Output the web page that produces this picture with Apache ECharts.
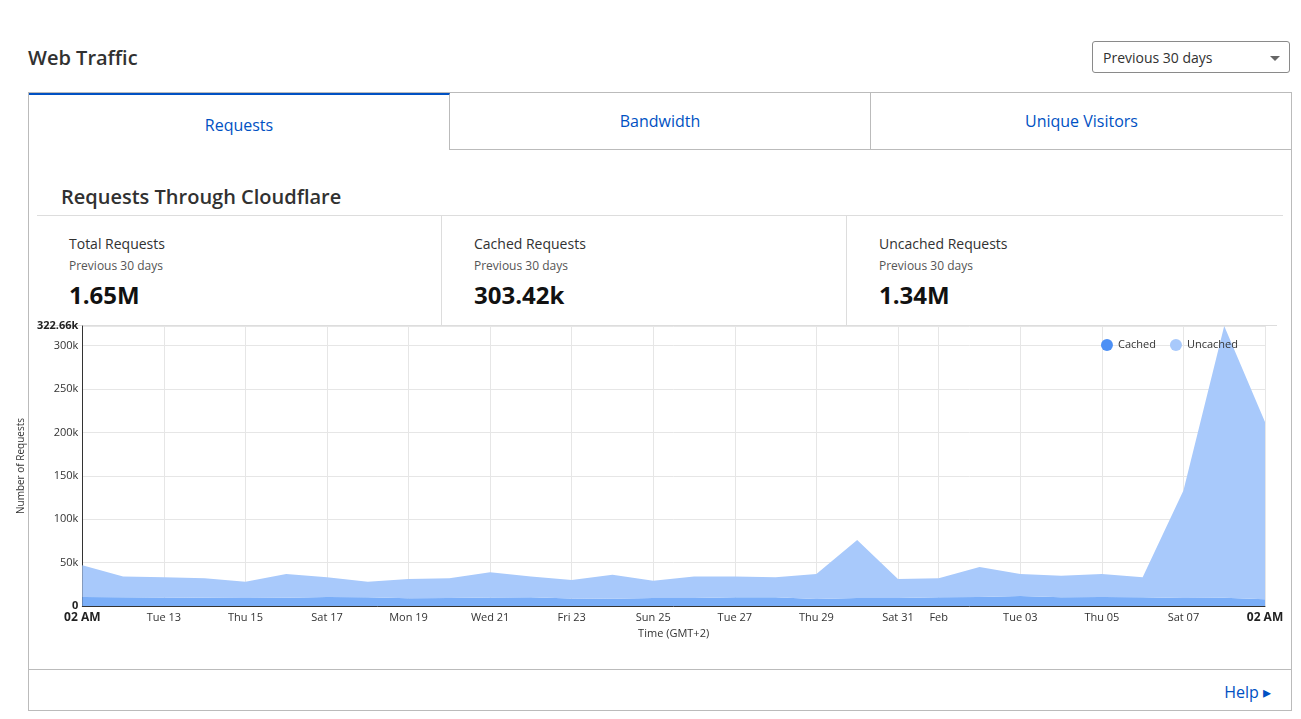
<!DOCTYPE html>
<html>
<head>
<meta charset="utf-8">
<title>Web Traffic</title>
<script src="https://cdn.jsdelivr.net/npm/echarts@6/dist/echarts.min.js"></script>
<style>
body{margin:0;font-family:"Open Sans","Noto Sans",sans-serif;color:#313131;background:#fff;}
.wrap{position:relative;width:1301px;height:719px;}
h2{position:absolute;left:28px;top:44px;margin:0;font-size:20px;font-weight:600;}
.sel{position:absolute;left:1092px;top:41px;width:198px;height:32px;border:1px solid #8a8a8a;border-radius:3px;box-sizing:border-box;font-size:14px;line-height:32px;padding-left:10px;}
.sel:after{content:"";position:absolute;right:9px;top:14px;border:5px solid transparent;border-top-color:#666;}
.card{position:absolute;left:28px;top:92px;width:1264px;height:619px;border:1px solid #bbb;box-sizing:border-box;}
.tab{position:absolute;top:0;height:57px;width:421px;border-bottom:1px solid #bbb;border-right:1px solid #bbb;box-sizing:border-box;text-align:center;line-height:56px;color:#0051c3;font-size:16px;}
.tab.on{border-bottom:none;border-top:2px solid #0051c3;line-height:60px;}
.title{position:absolute;left:32px;top:90px;font-size:20px;font-weight:600;}
.hr{position:absolute;left:8px;right:8px;top:122px;border-top:1px solid #ddd;}
.stat{position:absolute;top:123px;height:110px;width:405px;border-right:1px solid #ddd;border-bottom:1px solid #ddd;box-sizing:border-box;}
.stat .a{position:absolute;left:32px;top:18px;font-size:14px;}
.stat .b{position:absolute;left:32px;top:41px;font-size:12px;color:#555;}
.stat .c{position:absolute;left:32px;top:62px;font-size:24px;font-weight:700;color:#111;}
.foot{position:absolute;left:0;right:0;top:576px;border-top:1px solid #bbb;}
.help{position:absolute;right:20px;top:588px;color:#0051c3;font-size:16px;}
#chart{position:absolute;left:8px;top:0;width:1290px;height:660px;}
</style>
</head>
<body>
<div class="wrap">
  <h2>Web Traffic</h2>
  <div class="sel">Previous 30 days</div>
  <div class="card">
    <div class="tab on" style="left:0">Requests</div>
    <div class="tab" style="left:421px">Bandwidth</div>
    <div class="tab" style="left:842px;border-right:none">Unique Visitors</div>
    <div class="title">Requests Through Cloudflare</div>
    <div class="hr"></div>
    <div class="stat" style="left:8px"><div class="a">Total Requests</div><div class="b">Previous 30 days</div><div class="c">1.65M</div></div>
    <div class="stat" style="left:413px"><div class="a">Cached Requests</div><div class="b">Previous 30 days</div><div class="c">303.42k</div></div>
    <div class="stat" style="left:818px;width:430px;border-right:none"><div class="a">Uncached Requests</div><div class="b">Previous 30 days</div><div class="c">1.34M</div></div>
    <div class="foot"></div>
    <div class="help">Help &#9656;</div>
  </div>
  <div id="chart"></div>
</div>
<script type="text/javascript">
    var days = ['02 AM','Mon 12','Tue 13','Wed 14','Thu 15','Fri 16','Sat 17','Sun 18','Mon 19','Tue 20',
                'Wed 21','Thu 22','Fri 23','Sat 24','Sun 25','Mon 26','Tue 27','Wed 28','Thu 29','Fri 30',
                'Sat 31','Feb','Mon 02','Tue 03','Wed 04','Thu 05','Fri 06','Sat 07','Sun 08','02 AM'];
    var shownLabels = [0,2,4,6,8,10,12,14,16,18,20,21,23,25,27,29];
    var cached = [10500,10200,9800,9600,9200,9400,10300,10100,9000,9100,
                  9900,10000,8700,8400,9300,9200,10200,10100,8000,9200,
                  9300,10200,10500,11500,10000,10300,10200,9300,9400,7900];
    var total = [47000,34000,33000,32000,28000,37000,33000,28000,31000,32000,
                 39000,34000,30000,36000,29000,34000,34000,33000,37000,76000,
                 31000,32000,45000,37000,35000,37000,33000,133000,322660,212000];
    var uncached = total.map(function (t, i) { return t - cached[i]; });
    var yMax = 322660;

    var myChart = echarts.init(document.getElementById('chart'));
    myChart.setOption({
        animation: false,
        textStyle: {fontFamily: 'Open Sans'},
        grid: {left: 72, right: 33, top: 326, bottom: 54},
        legend: {
            top: 334, right: 55, icon: 'circle', itemWidth: 12, itemHeight: 12, itemGap: 14,
            textStyle: {fontSize: 11, color: '#333'},
            data: ['Cached', 'Uncached']
        },
        xAxis: {
            type: 'category', boundaryGap: false, data: days,
            name: 'Time (GMT+2)', nameLocation: 'middle', nameGap: 22,
            nameTextStyle: {fontSize: 11, color: '#333'},
            axisLine: {lineStyle: {color: '#333'}},
            axisTick: {show: false},
            axisLabel: {
                interval: function (i) { return shownLabels.indexOf(i) >= 0; },
                fontSize: 11, color: '#333', margin: 6,
                formatter: function (v) { return v === '02 AM' ? '{b|02 AM}' : v; },
                rich: {b: {fontWeight: 'bold', fontSize: 12, color: '#222'}}
            },
            splitLine: {
                show: true, interval: function (i) { return shownLabels.indexOf(i) >= 0; },
                lineStyle: {color: '#e6e6e6'}
            }
        },
        yAxis: {
            type: 'value', min: 0, max: yMax, interval: 50000,
            name: 'Number of Requests', nameLocation: 'middle', nameGap: 50,
            nameTextStyle: {fontSize: 10, color: '#333'},
            axisLine: {show: true, lineStyle: {color: '#333'}},
            axisLabel: {
                fontSize: 11, color: '#333', margin: 4, showMaxLabel: true,
                formatter: function (v) {
                    if (v === yMax) return '{b|322.66k}';
                    return v === 0 ? '{b|0}' : (v / 1000) + 'k';
                },
                rich: {b: {fontWeight: 'bold', fontSize: 11, color: '#222'}}
            },
            splitLine: {lineStyle: {color: '#e6e6e6'}}
        },
        series: [
            {
                name: 'Cached', type: 'line', stack: 'req', data: cached,
                symbol: 'none', lineStyle: {width: 0},
                itemStyle: {color: '#4d90f5'},
                areaStyle: {color: '#7aaef8', opacity: 1}
            },
            {
                name: 'Uncached', type: 'line', stack: 'req', data: uncached,
                symbol: 'none', lineStyle: {width: 0},
                itemStyle: {color: '#a8c9fb'},
                areaStyle: {color: '#a8c9fb', opacity: 1}
            }
        ]
    });
</script>
</body>
</html>
